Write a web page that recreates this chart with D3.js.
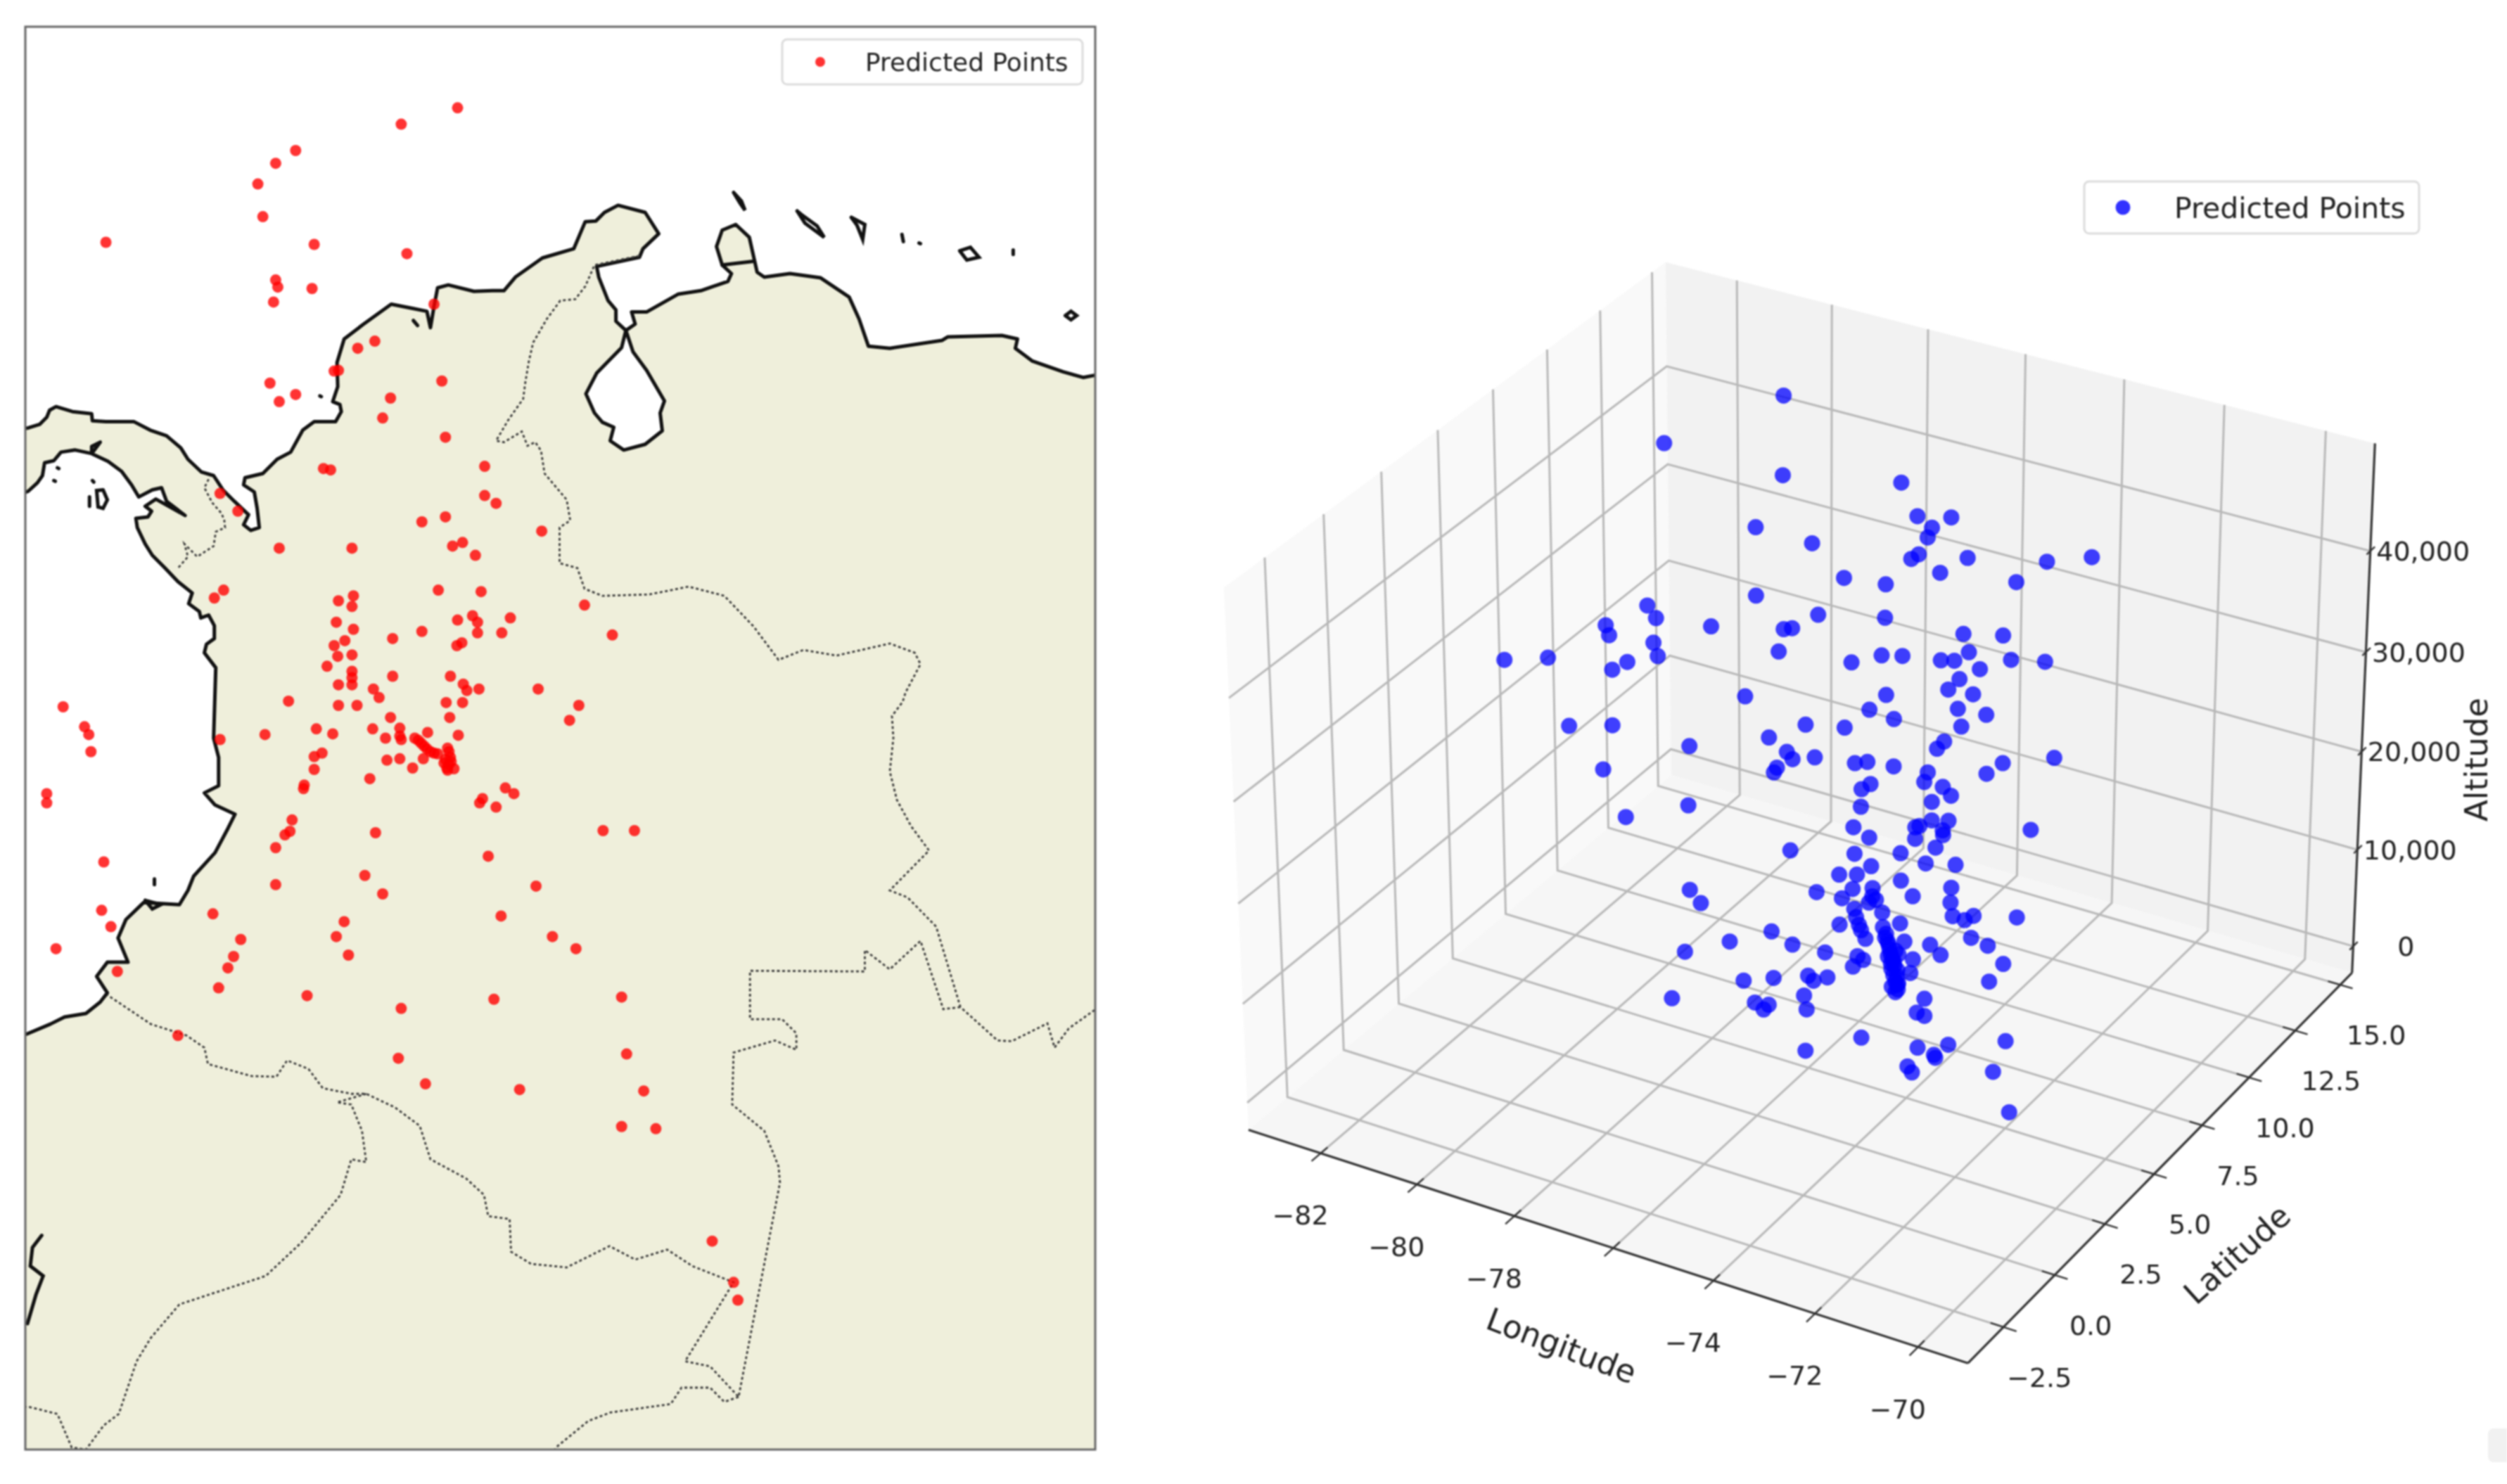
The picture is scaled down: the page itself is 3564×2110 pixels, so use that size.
<!DOCTYPE html>
<html>
<head>
<meta charset="utf-8">
<title>Predicted Points</title>
<script src="https://cdn.jsdelivr.net/npm/d3@7"></script>
<style>
    html, body { margin: 0; background: #fff; }
    svg { display: block; filter: blur(1.1px); font-family: "DejaVu Sans", sans-serif; }
</style>
</head>
<body>
<div id="chart"></div>
<script>
// Map points
const mapLon = [-73.94,-74.73,-76.21,-76.49,-76.74,-76.67,-78.87,-75.95,-74.65,-76.49,-76.46,-75.98,-76.52,-74.27,-75.10,-75.34,-75.61,-75.67,-74.16,-76.57,-76.21,-76.44,-74.88,-74.99,-74.11,-73.56,-75.82,-75.72,-77.27,-73.56,-73.40,-77.02,-74.11,-74.44,-72.76,
    -73.87,-74.01,-76.44,-75.42,-73.69,-74.21,-77.22,-73.61,-77.35,-75.40,-75.61,-75.42,-72.16,-73.73,-73.94,-73.20,-73.66,-75.64,-75.40,-74.44,-73.32,-73.66,-71.77,-74.85,-75.52,-73.88,-75.67,-73.95,-75.62,-75.42,-75.77,-75.42,-75.42,-74.85,-74.04,
    -73.86,-75.61,-75.42,-73.81,-73.64,-72.81,-75.12,-79.47,-76.31,-75.61,-75.35,-72.24,-72.37,-79.17,-79.11,-75.92,-75.69,-76.64,-77.27,-79.08,-75.84,-75.95,-75.95,-76.09,-76.10,-79.70,-79.70,-73.15,-73.63,-73.40,-76.26,-76.29,-76.36,-75.09,-71.90,
    -71.46,-76.49,-78.90,-73.51,-75.24,-76.49,-72.84,-74.99,-78.93,-77.37,-73.33,-78.80,-75.53,-75.64,-72.61,-76.98,-79.57,-72.28,-77.08,-75.47,-77.16,-78.71,-77.29,-76.05,-71.64,-73.43,-74.73,-77.86,-71.57,-74.77,-74.39,-73.07,-71.33,-71.64,-71.16,
    -70.37,-70.07,-70.01,-75.04,-74.10,-73.87,-74.05,-74.88,-75.13,-74.95,-74.75,-74.75,-74.73,-74.36,-73.93,-74.54,-74.45,-74.37,-74.27,-74.42,-74.93,-74.75,-74.57,-74.06,-74.11,-74.06,-73.99,-74.09,-75.17,-73.27,-73.59,
    -74.49,-74.41,-74.32,-74.22,-74.08,-74.04,-74.13,-74.03,-74.08];
const mapLat = [13.86,13.63,13.26,13.08,12.79,12.33,11.97,11.94,11.81,11.44,11.34,11.32,11.13,11.10,10.58,10.48,10.17,10.16,10.02,9.99,9.83,9.73,9.78,9.50,9.23,8.82,8.79,8.77,8.44,8.41,8.30,8.19,8.11,8.04,7.91,
    7.75,7.70,7.67,7.67,7.57,7.08,7.08,7.06,6.97,7.00,6.93,6.85,6.87,6.72,6.66,6.69,6.63,6.63,6.53,6.50,6.48,6.48,6.45,6.40,6.37,6.34,6.30,6.30,6.15,6.17,6.01,5.94,5.85,5.87,5.87,
    5.76,5.75,5.75,5.67,5.69,5.69,5.69,5.44,5.52,5.46,5.46,5.46,5.25,5.16,5.05,5.13,5.06,5.05,4.98,4.81,4.79,4.74,4.56,4.34,4.29,4.22,4.09,4.22,4.09,4.03,3.85,3.69,3.64,3.67,3.70,
    3.70,3.46,3.26,3.34,3.07,2.94,2.92,2.81,2.58,2.53,2.50,2.35,2.42,2.21,2.21,2.17,2.04,2.04,1.93,1.95,1.77,1.72,1.49,1.38,1.36,1.33,1.20,0.82,0.56,0.50,0.14,0.06,0.04,-0.46,-0.49,
    -2.07,-2.65,-2.90,5.57,5.50,5.50,5.29,5.29,5.13,5.00,5.14,5.03,4.98,5.08,5.04,5.00,4.93,4.85,4.79,4.71,4.69,4.71,4.58,4.81,4.70,4.63,4.57,4.58,4.43,4.30,4.15,
    4.97,4.89,4.81,4.78,4.86,4.73,4.65,4.67,4.55];

// Land outline: Pacific coast going north, Panama out of the frame and back, Caribbean coast, Maracaibo, Venezuela
const coastLine = [[-80.4,-6],[-80.4,0.84],[-79.98,0.84],[-79.65,0.98],[-79.45,1.08],[-79.15,1.13],[-78.95,1.29],[-78.85,1.42],[-79.00,1.65],[-78.85,1.85],[-78.56,1.85],[-78.70,2.19],[-78.59,2.45],[-78.34,2.69],[-77.84,2.66],[-77.72,2.86],[-77.64,3.06],[-77.34,3.39],[-77.16,3.73],[-77.06,3.93],[-77.34,4.06],[-77.49,4.23],[-77.29,4.33],[-77.29,4.73],[-77.36,5.0],[-77.33,5.99],[-77.49,6.2],[-77.46,6.32],[-77.35,6.40],[-77.35,6.58],[-77.43,6.73],[-77.54,6.69],[-77.56,6.78],[-77.71,6.89],[-77.66,7.04],[-77.86,7.2],[-78.05,7.4],[-78.22,7.57],[-78.32,7.73],[-78.43,7.96],[-78.45,8.09],[-78.28,8.11],[-78.23,8.19],[-78.32,8.26],[-78.17,8.36],[-77.99,8.26],[-77.76,8.13],[-78.02,8.33],[-78.09,8.52],[-78.22,8.49],[-78.41,8.39],[-78.51,8.56],[-78.65,8.75],[-78.84,8.89],[-79.07,9.0],[-79.07,9.10],[-78.95,9.16],[-79.07,9.0],[-79.30,9.05],[-79.5,9.02],[-79.6,8.9],[-79.73,8.87],[-79.76,8.69],[-79.83,8.59],[-79.96,8.47],[-80.4,8.3],[-80.4,9.3],[-79.96,9.36],[-79.8,9.41],[-79.7,9.51],[-79.66,9.61],[-79.57,9.66],[-79.34,9.59],[-79.07,9.56],[-79.06,9.46],[-78.87,9.45],[-78.48,9.45],[-78.25,9.33],[-78.02,9.25],[-77.82,9.08],[-77.72,8.92],[-77.53,8.74],[-77.36,8.69],[-77.23,8.49],[-77.07,8.33],[-76.87,8.14],[-76.94,8.0],[-76.84,7.92],[-76.72,7.96],[-76.75,8.23],[-76.79,8.46],[-76.94,8.56],[-76.92,8.66],[-76.67,8.72],[-76.47,8.92],[-76.28,9.02],[-76.11,9.33],[-75.95,9.45],[-75.65,9.45],[-75.57,9.59],[-75.59,9.69],[-75.69,9.73],[-75.62,9.94],[-75.63,10.28],[-75.53,10.61],[-75.27,10.81],[-74.87,11.1],[-74.57,11.04],[-74.37,11.0],[-74.32,10.77],[-74.27,11.07],[-74.22,11.33],[-74.07,11.37],[-73.71,11.28],[-73.45,11.29],[-73.29,11.29],[-73.13,11.48],[-72.75,11.75],[-72.31,11.88],[-72.15,12.26],[-72.0,12.27],[-71.88,12.39],[-71.69,12.49],[-71.31,12.39],[-71.12,12.09],[-71.34,11.88],[-71.39,11.76],[-71.99,11.63],[-71.96,11.48],[-71.83,11.15],[-71.72,11.02],[-71.72,10.86],[-71.58,10.73],[-71.64,10.49],[-71.99,10.13],[-72.14,9.84],[-72.02,9.57],[-71.91,9.44],[-71.75,9.37],[-71.8,9.18],[-71.61,9.05],[-71.31,9.13],[-71.07,9.32],[-71.1,9.57],[-71.04,9.74],[-71.29,10.17],[-71.48,10.43],[-71.58,10.73],[-71.45,10.82],[-71.5,10.99],[-71.29,10.99],[-70.85,11.24],[-70.53,11.29],[-70.15,11.42],[-70.1,11.53],[-70.23,11.65],[-70.31,11.91],[-70.23,12.14],[-70.04,12.22],[-69.85,12.04],[-69.74,11.55],[-69.64,11.48],[-69.28,11.53],[-68.85,11.47],[-68.45,11.2],[-68.31,10.89],[-68.18,10.51],[-67.88,10.48],[-67.15,10.59],[-67.07,10.64],[-66.31,10.66],[-66.09,10.61],[-66.12,10.48],[-65.88,10.3],[-65.45,10.15],[-65.17,10.07],[-65.01,10.1],[-64.5,10.1],[-64.5,-6]];

// Islands and small black bits of shoreline
const shoreBits = [
    [[-70.07,12.67],[-69.96,12.55],[-69.91,12.42],[-69.98,12.52],[-70.07,12.67]],
    [[-69.18,12.41],[-69.07,12.24],[-68.8,12.04],[-68.9,12.2],[-69.12,12.36],[-69.18,12.41]],
    [[-68.42,12.32],[-68.23,12.22],[-68.26,12.01],[-68.34,12.21],[-68.42,12.32]],
    [[-67.71,12.08],[-67.69,11.98]],
    [[-67.47,11.96],[-67.45,11.95]],
    [[-66.9,11.85],[-66.75,11.9],[-66.63,11.76],[-66.8,11.72],[-66.9,11.85]],
    [[-66.15,11.86],[-66.15,11.8]],
    [[-65.42,10.94],[-65.34,11.0],[-65.26,10.94],[-65.34,10.88],[-65.42,10.94]],
    [[-79.55,8.8],[-79.53,8.79]],
    [[-79.6,8.62],[-79.58,8.61]],
    [[-79.06,8.62],[-79.04,8.6]],
    [[-79.1,8.39],[-79.1,8.26]],
    [[-78.91,8.49],[-79.0,8.48],[-78.98,8.25],[-78.91,8.23],[-78.85,8.35],[-78.91,8.49]],
    [[-75.87,9.81],[-75.85,9.8]],
    [[-78.19,3.02],[-78.19,2.94]],
    [[-74.56,10.87],[-74.5,10.8]],
    [[-78.32,2.72],[-78.22,2.6],[-78.1,2.66],[-78.32,2.72]],
    [[-70.23,11.65],[-69.81,11.7]],
    [[-79.77,-1.99],[-79.9,-2.16],[-79.93,-2.42],[-79.75,-2.56],[-79.85,-2.82],[-79.97,-3.23]]
];

// Country borders
const borderLines = [
    [[-71.39,11.78],[-72.02,11.65],[-72.15,11.35],[-72.29,11.17],[-72.50,11.15],[-72.69,10.89],[-72.88,10.56],[-72.94,10.30],[-72.99,10.0],[-73.02,9.77],[-73.23,9.47],[-73.40,9.18],[-73.29,9.16],[-73.04,9.31],[-72.96,9.11],[-72.85,9.16],[-72.77,9.04],[-72.72,8.72],[-72.41,8.35],[-72.36,8.06],[-72.51,7.96],[-72.51,7.46],[-72.26,7.39],[-72.16,7.10],[-71.91,7.0],[-71.25,7.02],[-70.7,7.13],[-70.2,7.0],[-69.79,6.57],[-69.44,6.1],[-69.09,6.24],[-68.63,6.16],[-67.88,6.33],[-67.53,6.2],[-67.45,6.04],[-67.66,5.64],[-67.7,5.51],[-67.85,5.31],[-67.83,5.0],[-67.88,4.53],[-67.78,4.13],[-67.58,3.76],[-67.33,3.42],[-67.88,2.86],[-67.63,2.76],[-67.23,2.35],[-66.89,1.22],[-66.37,0.75],[-66.17,0.74],[-65.67,0.99],[-65.57,0.65],[-65.37,0.92],[-65.02,1.17],[-64.8,1.2]],
    [[-66.89,1.22],[-67.13,1.19],[-67.45,2.15],[-67.88,1.75],[-68.23,2.02],[-68.23,1.72],[-69.84,1.73],[-69.84,1.05],[-69.39,1.05],[-69.19,0.85],[-69.19,0.62],[-69.49,0.75],[-70.07,0.58],[-70.09,-0.15],[-69.64,-0.52],[-69.44,-1.02],[-69.42,-1.25],[-70.0,-4.26],[-70.4,-3.83],[-70.75,-3.76],[-70.07,-2.65],[-70.65,-2.42],[-71.0,-2.19],[-71.45,-2.33],[-71.81,-2.14],[-72.41,-2.44],[-72.91,-2.39],[-73.19,-2.22],[-73.21,-1.76],[-73.51,-1.72],[-73.57,-1.42],[-73.82,-1.19],[-74.32,-0.92],[-74.47,-0.45],[-74.82,-0.19],[-75.22,0],[-75.43,0],[-75.83,0.08],[-76.03,0.35],[-76.33,0.47],[-76.48,0.24],[-76.83,0.25],[-77.44,0.42],[-77.49,0.65],[-77.74,0.82],[-78.24,0.98],[-78.85,1.39]],
    [[-75.22,0],[-75.63,-0.12],[-75.43,-0.15],[-75.28,-0.52],[-75.22,-0.96],[-75.43,-0.92],[-75.58,-1.42],[-76.13,-2.09],[-76.63,-2.56],[-77.84,-2.96],[-78.24,-3.43],[-78.44,-3.76],[-78.69,-4.5],[-78.9,-4.66],[-79.15,-5.0],[-79.35,-4.97],[-79.55,-4.5],[-79.95,-4.4],[-80.2,-4.4]],
    [[-70.0,-4.26],[-70.2,-4.33],[-70.4,-4.13],[-70.8,-4.13],[-70.95,-4.36],[-71.8,-4.48],[-72.11,-4.6],[-72.56,-4.97],[-72.62,-5.1]],
    [[-77.43,8.64],[-77.49,8.52],[-77.38,8.31],[-77.25,8.16],[-77.21,8.06],[-77.2,7.96],[-77.33,7.9],[-77.36,7.70],[-77.59,7.55],[-77.77,7.73],[-77.72,7.55],[-77.86,7.39]]
];

// 3D points
const lon3d = [-76.28,-78.81,-76.52,-74.31,-77.29,-75.98,-73.74,-73.02,-73.53,-73.68,-73.96,-74.21,-72.94,-71.25,-70.34,-75.24,-74.49,-73.54,-72.17,-77.10,-79.11,-78.86,-75.75,-74.50,-80.25,-80.30,-78.01,-76.36,-76.12,-72.90,-72.20,-79.27,-79.30,-82.30,-81.18,-79.46,-79.93,
    -76.61,-75.27,-74.78,-74.19,-73.26,-72.93,-72.79,-72.04,-71.49,-72.85,-73.07,-73.11,-72.56,-74.40,-77.29,-74.91,-73.27,-72.54,-74.17,-72.78,-76.00,-75.29,-81.05,-80.26,-76.85,-73.18,-73.25,-78.36,-76.45,-76.45,-76.11,-75.12,-74.69,-74.10,-71.11,-72.17,-72.59,
    -73.85,-73.74,-80.07,-76.43,-76.64,-74.77,-75.06,-73.55,-73.21,-73.41,-78.24,-74.89,-79.77,-75.22,-75.01,-73.91,-73.65,-73.34,-73.15,-73.33,-73.43,-74.09,-71.64,-78.30,-78.00,-71.68,-78.07,-77.37,-76.79,-77.89,-75.96,-70.46,-69.90,-72.40,-72.35,-72.14,-76.42,
    -74.94,-73.95,-73.40,-74.75,-73.77,-73.28,-75.43,-74.89,-73.94,-75.05,-75.85,-74.83,-73.36,-73.95,-75.19,-74.51,-74.58,-73.16,-75.16,-75.01,-74.49,-72.87,-72.53,-72.53,-74.94,-74.92,-75.42,-74.02,-74.15,-74.48,-74.47,-76.51,-76.05,-75.42,-72.47,-71.90,-73.93,
    -73.93,-73.72,-73.28,-73.07,-74.55,-74.22,-74.28,-73.30,-73.28,-73.96,-73.93,-73.73,-73.55,-73.36,-73.34,-73.43,-73.50,-71.76,-71.69,-75.84,-75.07,-75.07,-74.90,-75.30,-75.21,-75.83,-75.71,-72.54,-72.69,-72.57,-73.71,-74.79,-72.42,-71.68,-71.78,-70.67,
    -73.91,-73.88,-73.84,-73.87,-73.78,-73.72,-73.81,-73.74,-73.76,-73.69,-73.72,-73.79,-73.67];
const lat3d = [4.51,4.86,5.03,5.30,5.56,5.12,4.68,4.51,4.86,5.03,5.30,5.56,5.12,4.68,4.51,4.86,5.03,5.30,5.56,5.12,4.68,4.51,4.86,5.03,5.30,5.56,5.12,4.68,4.51,4.86,5.03,5.30,5.56,5.12,4.68,4.51,4.86,
    5.03,5.30,5.56,5.12,4.68,4.51,4.86,5.03,5.30,5.56,5.12,4.68,4.51,4.86,5.03,5.30,5.56,5.12,4.68,4.51,4.86,5.03,5.30,5.56,5.12,4.68,4.51,4.86,5.03,5.30,5.56,5.12,4.68,4.51,4.86,5.03,5.30,
    5.56,5.12,4.68,4.51,4.86,5.03,5.30,5.56,5.12,4.68,4.51,4.86,5.03,5.30,5.56,5.12,4.68,4.51,4.86,5.03,5.30,5.56,5.12,4.68,4.51,4.60,3.90,4.42,3.73,2.86,2.33,0.42,-0.19,1.11,1.20,1.81,5.12,
    4.68,4.51,4.86,5.03,5.30,5.56,5.12,4.68,4.51,4.86,5.03,5.30,5.56,5.12,4.68,4.51,4.86,5.03,5.21,5.56,4.95,4.42,4.16,4.60,4.77,4.86,5.12,4.68,4.16,3.90,4.09,4.42,4.34,4.42,4.34,3.73,3.73,
    3.90,4.16,4.34,4.34,3.90,3.38,3.03,3.55,3.38,4.09,4.16,3.90,3.12,2.94,2.94,3.12,3.20,4.16,3.29,2.94,2.77,3.03,3.29,3.12,3.03,2.68,2.16,2.25,2.25,2.33,2.07,1.98,1.64,1.29,0.85,1.55,
    3.73,3.73,3.73,3.73,3.73,3.73,3.73,3.73,3.73,3.73,3.73,3.73,3.73];
const alt3d = [63600,55400,55000,56700,48200,49100,55300,56400,54200,52800,50400,49200,51700,54300,56200,47200,47300,49200,49700,42600,39700,39100,43000,44100,35200,33700,38400,41100,41800,45000,45500,34800,33000,29300,31800,34000,32000,
    38000,38300,39200,40700,42300,43000,43400,43400,43500,40500,40000,39700,40300,37100,32700,34200,36100,37300,35400,36900,32000,32400,24100,24800,29100,34600,34100,26600,28400,27200,27400,29000,30500,31200,35600,33300,31200,
    29100,29100,22200,27800,26400,27600,26200,28100,28500,28400,21500,25500,17200,22200,21000,24400,25700,27000,26600,25100,24000,22200,27400,12600,12000,19700,8100,9200,7400,5600,9100,14300,12400,10500,9800,10400,18500,
    21100,22900,23600,19500,20700,20800,17500,19100,20200,17100,15300,16700,18400,17500,16300,17800,16700,18200,14300,14500,15400,18400,19000,18600,14600,13700,12500,15500,15900,15600,14400,11500,11000,11000,17000,18200,16000,
    15000,15100,15100,14400,12900,14000,13900,15100,14100,13600,12800,14300,14600,15100,13800,13200,12200,15800,15800,10600,12300,11300,11400,9300,8200,8400,9100,14800,13200,12900,9500,6700,11300,13400,13100,14800,
    16400,15700,15000,14200,14100,15000,13600,13500,12500,12500,11900,11300,11200];

// Axis ticks of the 3D plot, the -76 label is missing in the picture
const lonTicks = [-82,-80,-78,-76,-74,-72,-70];
const lonTickLabels = ['\u221282','\u221280','\u221278','','\u221274','\u221272','\u221270'];
const latTicks = [-2.5,0,2.5,5,7.5,10,12.5,15];
const latTickLabels = ['\u22122.5','0.0','2.5','5.0','7.5','10.0','12.5','15.0'];
const altTicks = [0,10000,20000,30000,40000];

const WIDTH = 3564;
const HEIGHT = 2110;

const svg = d3.select('#chart').append('svg')
    .attr('width', WIDTH)
    .attr('height', HEIGHT);

// ---------- left panel, the map ----------
const MAP = { left: 36, right: 1557, top: 38, bottom: 2061 };
const mapX = d3.scaleLinear().domain([-80, -65]).range([MAP.left, MAP.right]);
const mapY = d3.scaleLinear().domain([15, -5]).range([MAP.top, MAP.bottom]);
const geoLine = d3.line().x(d => mapX(d[0])).y(d => mapY(d[1]));

svg.append('clipPath').attr('id', 'mapClip').append('rect')
    .attr('x', MAP.left).attr('y', MAP.top)
    .attr('width', MAP.right - MAP.left).attr('height', MAP.bottom - MAP.top);

const mapG = svg.append('g').attr('clip-path', 'url(#mapClip)');

mapG.append('path')
    .attr('d', geoLine(coastLine) + 'Z')
    .attr('fill', '#efefdb')
    .attr('stroke', '#111')
    .attr('stroke-width', 5)
    .attr('stroke-linejoin', 'round');

mapG.selectAll('.bit').data(shoreBits).join('path')
    .attr('class', 'bit')
    .attr('d', geoLine)
    .attr('fill', 'none')
    .attr('stroke', '#111')
    .attr('stroke-width', 5)
    .attr('stroke-linecap', 'round');

mapG.selectAll('.border').data(borderLines).join('path')
    .attr('class', 'border')
    .attr('d', geoLine)
    .attr('fill', 'none')
    .attr('stroke', '#3a3a3a')
    .attr('stroke-width', 2.8)
    .attr('stroke-dasharray', '4 3.5');

mapG.selectAll('.mapPoint').data(mapLon).join('circle')
    .attr('class', 'mapPoint')
    .attr('cx', d => mapX(d))
    .attr('cy', (d, i) => mapY(mapLat[i]))
    .attr('r', 8)
    .attr('fill', '#ff0000')
    .attr('fill-opacity', 0.8);

svg.append('rect')
    .attr('x', MAP.left).attr('y', MAP.top)
    .attr('width', MAP.right - MAP.left).attr('height', MAP.bottom - MAP.top)
    .attr('fill', 'none')
    .attr('stroke', '#666')
    .attr('stroke-width', 3);

function drawLegend(box, color, r, fontSize) {
    svg.append('rect')
        .attr('x', box.x).attr('y', box.y)
        .attr('width', box.w).attr('height', box.h)
        .attr('rx', 7)
        .attr('fill', '#fff')
        .attr('stroke', '#dcdcdc')
        .attr('stroke-width', 3);
    svg.append('circle')
        .attr('cx', box.mx).attr('cy', box.y + box.h / 2)
        .attr('r', r)
        .attr('fill', color)
        .attr('fill-opacity', 0.8);
    svg.append('text')
        .attr('x', box.tx).attr('y', box.y + box.h / 2)
        .attr('dy', '0.36em')
        .attr('font-size', fontSize)
        .attr('fill', '#222')
        .text('Predicted Points');
}

drawLegend({ x: 1112, y: 56, w: 427, h: 64, mx: 1166, tx: 1230 }, '#ff0000', 7, 36);

// ---------- right panel, the 3D scatter ----------
// same camera as mplot3d: elevation 30, azimuth -60, distance 10
const BOX_XY = 0.562;
const BOX_Z = 0.4215;
const CENTER_X = 2573;
const CENTER_Y = 1120;
const VIEW_SCALE = 1043;

const lonScale = d3.scaleLinear().domain([-83.52, -69.04]).range([-BOX_XY, BOX_XY]);
const latScale = d3.scaleLinear().domain([-4.2, 15.66]).range([-BOX_XY, BOX_XY]);
const altScale = d3.scaleLinear().domain([-2780, 50475]).range([-BOX_Z, BOX_Z]);
const LON_MIN = lonScale.domain()[0], LON_MAX = lonScale.domain()[1];
const LAT_MIN = latScale.domain()[0], LAT_MAX = latScale.domain()[1];
const ALT_MIN = altScale.domain()[0], ALT_MAX = altScale.domain()[1];

function project(lon, lat, alt) {
    const X = lonScale(lon), Y = latScale(lat), Z = altScale(alt);
    const depth = 0.433 * X - 0.75 * Y + 0.5 * Z;
    const p = 1 / (1 - depth / 10);
    return [
        CENTER_X + VIEW_SCALE * p * (0.866 * X + 0.5 * Y),
        CENTER_Y - VIEW_SCALE * p * (-0.25 * X + 0.433 * Y + 0.866 * Z)
    ];
}

const line3d = d3.line().x(d => project(...d)[0]).y(d => project(...d)[1]);
const plot = svg.append('g');

// walls
const walls = [
    { fill: '#f9f9f9', pts: [[LON_MIN,LAT_MIN,ALT_MIN],[LON_MIN,LAT_MAX,ALT_MIN],[LON_MIN,LAT_MAX,ALT_MAX],[LON_MIN,LAT_MIN,ALT_MAX]] },
    { fill: '#f2f2f2', pts: [[LON_MIN,LAT_MAX,ALT_MIN],[LON_MAX,LAT_MAX,ALT_MIN],[LON_MAX,LAT_MAX,ALT_MAX],[LON_MIN,LAT_MAX,ALT_MAX]] },
    { fill: '#f6f6f6', pts: [[LON_MIN,LAT_MIN,ALT_MIN],[LON_MAX,LAT_MIN,ALT_MIN],[LON_MAX,LAT_MAX,ALT_MIN],[LON_MIN,LAT_MAX,ALT_MIN]] }
];
plot.selectAll('.wall').data(walls).join('path')
    .attr('class', 'wall')
    .attr('d', d => line3d(d.pts) + 'Z')
    .attr('fill', d => d.fill);

// grid
const gridLines = [
    ...lonTicks.map(v => [[v,LAT_MIN,ALT_MIN],[v,LAT_MAX,ALT_MIN],[v,LAT_MAX,ALT_MAX]]),
    ...latTicks.map(v => [[LON_MAX,v,ALT_MIN],[LON_MIN,v,ALT_MIN],[LON_MIN,v,ALT_MAX]]),
    ...altTicks.map(v => [[LON_MIN,LAT_MIN,v],[LON_MIN,LAT_MAX,v],[LON_MAX,LAT_MAX,v]])
];
plot.selectAll('.grid').data(gridLines).join('path')
    .attr('class', 'grid')
    .attr('d', line3d)
    .attr('fill', 'none')
    .attr('stroke', '#b8b8b8')
    .attr('stroke-width', 3);

// axis lines
const axisLines = [
    [[LON_MIN,LAT_MIN,ALT_MIN],[LON_MAX,LAT_MIN,ALT_MIN]],
    [[LON_MAX,LAT_MIN,ALT_MIN],[LON_MAX,LAT_MAX,ALT_MIN]],
    [[LON_MAX,LAT_MAX,ALT_MIN],[LON_MAX,LAT_MAX,ALT_MAX]]
];
plot.selectAll('.axisLine').data(axisLines).join('path')
    .attr('class', 'axisLine')
    .attr('d', line3d)
    .attr('fill', 'none')
    .attr('stroke', '#333')
    .attr('stroke-width', 3.2);

// tick marks
const tickMarks = [
    ...lonTicks.map(v => [[v,LAT_MIN - 0.4,ALT_MIN],[v,LAT_MIN + 0.3,ALT_MIN]]),
    ...latTicks.map(v => [[LON_MAX + 0.25,v,ALT_MIN],[LON_MAX - 0.25,v,ALT_MIN]]),
    ...altTicks.map(v => [[LON_MAX,LAT_MAX + 0.25,v],[LON_MAX,LAT_MAX - 0.2,v]])
];
plot.selectAll('.tick').data(tickMarks).join('path')
    .attr('class', 'tick')
    .attr('d', line3d)
    .attr('fill', 'none')
    .attr('stroke', '#333')
    .attr('stroke-width', 2.4);

// tick labels
function tickLabel(pos, dx, dy, text) {
    plot.append('text')
        .attr('x', pos[0] + dx).attr('y', pos[1] + dy)
        .attr('dy', '0.36em')
        .attr('text-anchor', 'middle')
        .attr('font-size', 38)
        .attr('fill', '#222')
        .text(text);
}
lonTicks.forEach((v, i) => tickLabel(project(v, LAT_MIN, ALT_MIN), -29, 88, lonTickLabels[i]));
latTicks.forEach((v, i) => tickLabel(project(LON_MAX, v, ALT_MIN), 51, 71, latTickLabels[i]));
altTicks.forEach(v => tickLabel(project(LON_MAX, LAT_MAX, v), 75, 0, d3.format(',')(v)));

// axis titles
const axisTitles = [
    { text: 'Longitude', x: 2220, y: 1913, angle: 21 },
    { text: 'Latitude', x: 3180, y: 1783, angle: -42 },
    { text: 'Altitude', x: 3520, y: 1080, angle: -90 }
];
plot.selectAll('.axisTitle').data(axisTitles).join('text')
    .attr('class', 'axisTitle')
    .attr('transform', d => `translate(${d.x},${d.y}) rotate(${d.angle})`)
    .attr('text-anchor', 'middle')
    .attr('dy', '0.36em')
    .attr('font-size', 45)
    .attr('fill', '#222')
    .text(d => d.text);

// points
plot.selectAll('.point3d').data(lon3d).join('circle')
    .attr('class', 'point3d')
    .attr('cx', (d, i) => project(d, lat3d[i], alt3d[i])[0])
    .attr('cy', (d, i) => project(d, lat3d[i], alt3d[i])[1])
    .attr('r', 11.5)
    .attr('fill', '#0000ff')
    .attr('fill-opacity', 0.75);

drawLegend({ x: 2963, y: 258, w: 476, h: 74, mx: 3018, tx: 3091 }, '#0000ff', 10.5, 41);

// grey corner left over in the picture
svg.append('rect')
    .attr('x', 3537).attr('y', 2031)
    .attr('width', 40).attr('height', 48)
    .attr('rx', 8)
    .attr('fill', '#f1f1f1');
</script>
</body>
</html>
